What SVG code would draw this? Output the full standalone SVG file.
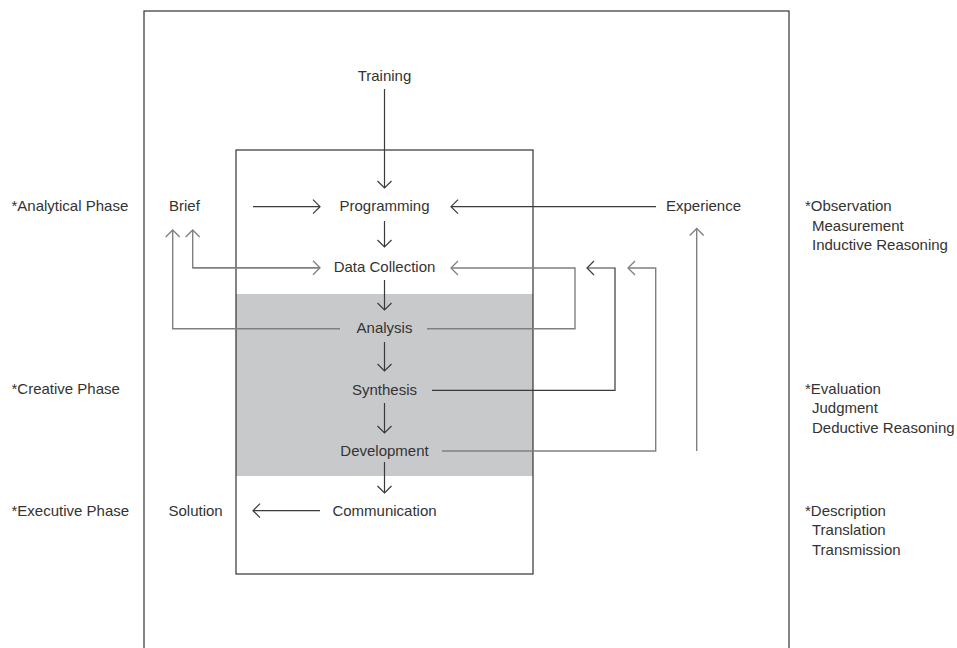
<svg xmlns="http://www.w3.org/2000/svg" width="957" height="648" viewBox="0 0 957 648">
<style>
text{font-family:"Liberation Sans",Arial,sans-serif;font-size:15px;fill:#333}
.c{text-anchor:middle}
.d{fill:none;stroke:#3a3a3a;stroke-width:1.2}
.g{fill:none;stroke:#808080;stroke-width:1.4}
</style>
<defs>
<marker id="ad" markerUnits="userSpaceOnUse" markerWidth="20" markerHeight="20" viewBox="-10 -10 20 20" refX="0" refY="0" orient="auto"><path d="M-7,-7 L0,0 L-7,7" fill="none" stroke="#3a3a3a" stroke-width="1.2"/></marker>
<marker id="ag" markerUnits="userSpaceOnUse" markerWidth="20" markerHeight="20" viewBox="-10 -10 20 20" refX="0" refY="0" orient="auto"><path d="M-7,-7 L0,0 L-7,7" fill="none" stroke="#808080" stroke-width="1.3"/></marker>
</defs>
<rect width="957" height="648" fill="#fff"/>
<g id="frame">
<rect x="144" y="11" width="645" height="700" fill="none" stroke="#333" stroke-width="1.2"/>
<rect x="236" y="294" width="297" height="182" fill="#c8c9cb"/>
<rect x="236" y="150" width="297" height="424" fill="none" stroke="#333" stroke-width="1.2"/>
</g>
<g id="connectors">
<path class="d" d="M384.5,89 V188" marker-end="url(#ad)"/>
<path class="d" d="M253,206.7 H320" marker-end="url(#ad)"/>
<path class="d" d="M656,206.7 H451" marker-end="url(#ad)"/>
<path class="d" d="M384.5,221 V247" marker-end="url(#ad)"/>
<path class="d" d="M384.5,280 V310" marker-end="url(#ad)"/>
<path class="d" d="M384.5,342 V371" marker-end="url(#ad)"/>
<path class="d" d="M384.5,403 V433" marker-end="url(#ad)"/>
<path class="d" d="M384.5,462 V493" marker-end="url(#ad)"/>
<path class="d" d="M320,510.7 H253" marker-end="url(#ad)"/>
<path class="g" d="M320,267.7 H192.7 V230" marker-end="url(#ag)"/>
<path class="g" d="M192.7,267.7 H320" marker-end="url(#ag)"/>
<path class="g" d="M340,328.7 H172.7 V230" marker-end="url(#ag)"/>
<path class="g" d="M427,328.7 H575 V268 H451" marker-end="url(#ag)"/>
<path class="d" d="M432,390.3 H615 V268 H587" marker-end="url(#ad)"/>
<path class="g" d="M442,451 H655.7 V268 H628" marker-end="url(#ag)"/>
<path class="g" d="M696.7,451 V228.5" marker-end="url(#ag)"/>
</g>
<g id="training"><text class="c" x="384.5" y="81">Training</text></g>
<g id="brief"><text x="169" y="211">Brief</text></g>
<g id="programming"><text class="c" x="384.5" y="211">Programming</text></g>
<g id="experience"><text x="666" y="211">Experience</text></g>
<g id="data-collection"><text class="c" x="384.5" y="272">Data Collection</text></g>
<g id="analysis"><text class="c" x="384.5" y="333">Analysis</text></g>
<g id="synthesis"><text class="c" x="384.5" y="394.5">Synthesis</text></g>
<g id="development"><text class="c" x="384.5" y="455.5">Development</text></g>
<g id="communication"><text class="c" x="384.5" y="516">Communication</text></g>
<g id="solution"><text x="168.5" y="516">Solution</text></g>
<g id="phases">
<text x="11.5" y="210.5">*Analytical Phase</text>
<text x="11.5" y="394">*Creative Phase</text>
<text x="11.5" y="516">*Executive Phase</text>
</g>
<g id="activities">
<text x="805" y="211">*Observation</text>
<text x="812" y="230.7">Measurement</text>
<text x="812" y="250.4">Inductive Reasoning</text>
<text x="805" y="393.5">*Evaluation</text>
<text x="812" y="413.2">Judgment</text>
<text x="812" y="432.9">Deductive Reasoning</text>
<text x="805" y="515.5">*Description</text>
<text x="812" y="535.2">Translation</text>
<text x="812" y="554.9">Transmission</text>
</g>
</svg>
